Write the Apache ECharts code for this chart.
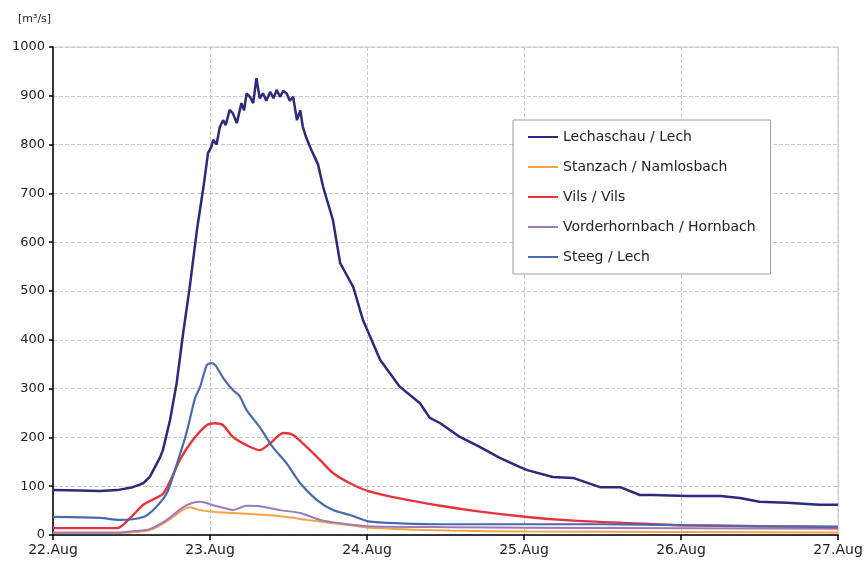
<!DOCTYPE html>
<html>
<head>
<meta charset="utf-8">
<script src="https://cdn.jsdelivr.net/npm/echarts@6/dist/echarts.min.js"></script>
<style>html,body{margin:0;padding:0;background:#fff;}#c{width:866px;height:570px;}</style>
</head>
<body>
<div id="c"></div>
<script>
// x values are hours after 22.Aug 00:00
var dayLabels = ['22.Aug', '23.Aug', '24.Aug', '25.Aug', '26.Aug', '27.Aug'];
var yUnit = '[m³/s]';
var seriesNames = ['Lechaschau / Lech', 'Stanzach / Namlosbach', 'Vils / Vils', 'Vorderhornbach / Hornbach', 'Steeg / Lech'];

var lechHours = [0, 4, 7.2, 9.8, 12.2, 13.8, 14.8, 16.4, 16.8, 17.9, 18.9, 19.9, 20.9, 22, 23, 23.7, 24.2, 24.5, 25, 25.5, 26, 26.4, 27, 27.5, 28.1, 28.8, 29.2, 29.6, 30.1, 30.6, 31.1, 31.6, 32.1, 32.6, 33.2, 33.7, 34.2, 34.7, 35.2, 35.7, 36.2, 36.7, 37.3, 37.8, 38.2, 38.7, 39.3, 39.7, 40.5, 41.3, 42.8, 43.9, 44.6, 45.9, 47.4, 50, 53, 56.1, 57.6, 59.2, 62.2, 65.3, 68.3, 71.4, 72.5, 76.4, 79.5, 83.6, 86.7, 89.7, 91.7, 96.9, 102, 105, 108, 112.2, 117.2, 120];
var lechValues = [92, 91, 90, 92, 98, 106, 119, 160, 174, 236, 311, 414, 508, 625, 713, 783, 795, 810, 800, 836, 850, 840, 871, 864, 844, 885, 870, 905, 898, 885, 936, 895, 905, 890, 908, 895, 912, 898, 910, 905, 890, 898, 850, 870, 836, 815, 795, 783, 760, 713, 645, 557, 540, 508, 440, 359, 304, 270, 240, 229, 201, 180, 158, 139, 133, 119, 117, 98, 98, 82, 82, 80, 80, 76, 68, 66, 62, 62];

var stanzachHours = [0, 9.8, 12.5, 14.8, 17.4, 19.9, 20.9, 22.5, 24.8, 27.5, 32.7, 35.7, 38.8, 42.8, 45.4, 48.2, 60.7, 72.5, 96.3, 120];
var stanzachValues = [4, 4, 6, 10, 28, 52, 57, 51, 47, 45, 41, 37, 31, 24, 20, 15, 9, 7, 6, 5];

var vilsHours = [0, 9.8, 11.8, 13.8, 15.6, 16.8, 17.9, 19.4, 21.4, 23.5, 24.8, 26, 27.5, 29.6, 31.6, 33.2, 35.2, 36.7, 38.8, 40.8, 42.8, 45.4, 48.2, 53, 59.2, 65.3, 72.5, 79, 86.7, 96.3, 108, 120];
var vilsValues = [14, 14, 35, 62, 75, 84, 110, 154, 195, 225, 229, 225, 201, 184, 174, 188, 209, 205, 180, 154, 127, 106, 90, 75, 60, 48, 37, 30, 25, 20, 18, 16];

var hornbachHours = [0, 9.8, 12.5, 14.8, 17.4, 19.9, 21.4, 22.5, 24.5, 26.3, 27.5, 29.6, 31.6, 34.7, 37.8, 40.8, 43.9, 48.2, 60.7, 72.5, 96.3, 120];
var hornbachValues = [5, 5, 8, 12, 31, 57, 66, 68, 61, 55, 51, 60, 59, 51, 45, 31, 24, 18, 16, 15, 14, 13];

var steegHours = [0, 7.2, 10.2, 13.8, 15.6, 17.4, 18.8, 20.4, 21.7, 22.5, 23.5, 24.2, 24.8, 26.1, 27.5, 28.5, 29.6, 31.6, 33.6, 35.7, 37.8, 40.3, 42.8, 45.4, 48.2, 53, 60.7, 72.5, 83.6, 96.3, 108, 120];
var steegValues = [37, 35, 31, 37, 55, 86, 140, 209, 280, 304, 348, 352, 348, 320, 297, 285, 256, 221, 180, 147, 106, 72, 51, 41, 28, 24, 22, 22, 22, 20, 18, 17];

function pairs(h, v) { return h.map(function (x, i) { return [x, v[i]]; }); }

var colors = ['#2b2a7c', '#f5a34a', '#e8323c', '#9b7bb8', '#4a6ab0'];
var allData = [
  pairs(lechHours, lechValues),
  pairs(stanzachHours, stanzachValues),
  pairs(vilsHours, vilsValues),
  pairs(hornbachHours, hornbachValues),
  pairs(steegHours, steegValues)
];
var widths = [2.5, 2, 2.4, 2, 2.2];
var zs = [6, 2, 4, 3, 5];

var chart = echarts.init(document.getElementById('c'), null, { renderer: 'canvas' });
var font = 'DejaVu Sans';
chart.setOption({
  animation: false,
  backgroundColor: '#ffffff',
  textStyle: { fontFamily: font },
  grid: { left: 53, right: 28, top: 47, bottom: 35, show: true, borderColor: '#c8c8c8', borderWidth: 1 },
  graphic: [{ type: 'text', left: 18, top: 14, style: { text: yUnit, font: '11px DejaVu Sans', fill: '#222' } }],
  legend: {
    orient: 'vertical', left: 513, top: 120,
    data: seriesNames,
    icon: 'rect', itemWidth: 30, itemHeight: 2, itemGap: 16,
    padding: [10, 15, 10, 15],
    backgroundColor: '#fff', borderColor: '#a0a0a0', borderWidth: 1,
    textStyle: { fontFamily: font, fontSize: 14, color: '#222' }
  },
  xAxis: {
    type: 'value', min: 0, max: 120, interval: 24,
    axisLine: { lineStyle: { color: '#000', width: 1.5 } },
    axisTick: { lineStyle: { color: '#000', width: 1.5 }, length: 5 },
    axisLabel: { color: '#222', fontSize: 14, fontFamily: font, margin: 8,
      formatter: function (v) { return dayLabels[Math.round(v / 24)]; } },
    splitLine: { show: true, lineStyle: { color: '#c8c8c8', type: 'dashed' } }
  },
  yAxis: {
    type: 'value', min: 0, max: 1000, interval: 100,
    axisLine: { show: true, lineStyle: { color: '#000', width: 1.5 } },
    axisTick: { show: true, lineStyle: { color: '#000', width: 1.5 }, length: 4 },
    axisLabel: { color: '#222', fontSize: 13, fontFamily: font, margin: 8,
      formatter: function (v) { return String(v); } },
    splitLine: { show: true, lineStyle: { color: '#c8c8c8', type: 'dashed' } }
  },
  series: seriesNames.map(function (n, i) {
    return {
      name: n, type: 'line', data: allData[i], showSymbol: false, symbol: 'none',
      smooth: i === 0 ? false : 0.25, z: zs[i],
      lineStyle: { color: colors[i], width: widths[i] }, itemStyle: { color: colors[i] }
    };
  })
});
</script>
</body>
</html>
